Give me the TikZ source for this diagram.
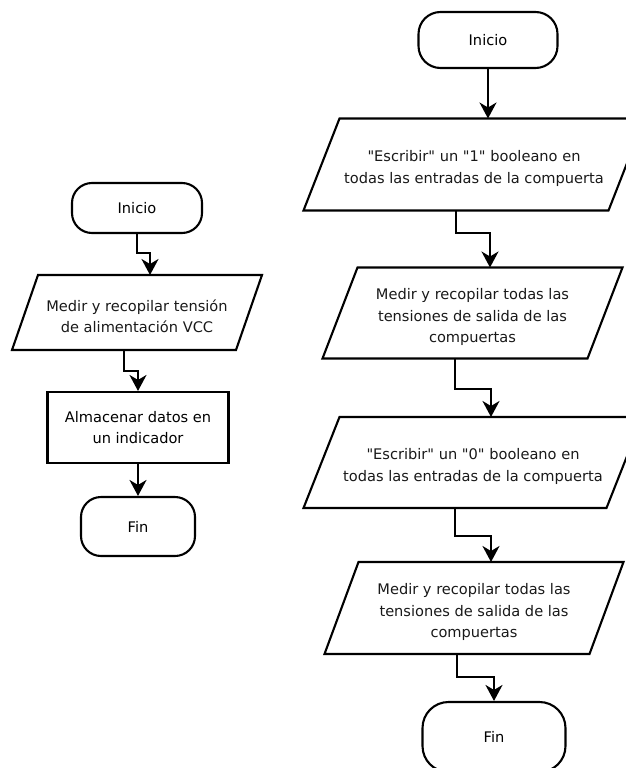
\documentclass[tikz,border=0pt]{standalone}
\usepackage{fontspec}
\setmainfont{DejaVu Sans}[Ligatures=TeXOff]
\usetikzlibrary{arrows.meta}

\tikzset{
  x=1pt, y=-1pt,
  flowline/.style={line width=2.1pt, black},
  flowarrow/.style={flowline, -{Stealth[length=16pt,width=17pt,inset=5pt]}},
  label text/.style={font=\fontsize{14.6}{21.5}\selectfont, text=black!90, align=center},
  terminal/.style={label text, draw, flowline, rounded corners=20pt, inner sep=0pt},
  process/.style={label text, draw, flowline, inner sep=0pt},
  io text/.style={label text, inner sep=0pt},
}

% Input/output box centred at (#2,#3): width #4, height #5, slant #6.
% The text node is (#1); #1t / #1b are the midpoints of the top and bottom edges.
\newcommand{\iobox}[7]{%
  \draw[flowline, line join=miter]
    ({#2-#4/2-#6/2},{#3+#5/2}) -- ({#2-#4/2+#6/2},{#3-#5/2}) --
    ({#2+#4/2+#6/2},{#3-#5/2}) -- ({#2+#4/2-#6/2},{#3+#5/2}) -- cycle;
  \node[io text] (#1) at (#2,{#3+4}) {#7};
  \coordinate (#1t) at ({#2+#6/2},{#3-#5/2});
  \coordinate (#1b) at ({#2-#6/2},{#3+#5/2});
}

\begin{document}
\begin{tikzpicture}
\useasboundingbox (0,0) rectangle (626,768);

% ---- left flow ----
\node[terminal, minimum width=130pt, minimum height=50pt] (li) at (137,208) {Inicio};
\iobox{lp}{137}{312.5}{224}{75}{26}{Medir y recopilar tensión\\de alimentación VCC}
\node[process, minimum width=181pt, minimum height=71pt] (lr) at (138,427.5) {Almacenar datos en\\un indicador};
\node[terminal, minimum width=114pt, minimum height=59pt] (lf) at (138,526.5) {Fin};

\coordinate (lm1) at (0,253);
\draw[flowarrow] (li.south) -- (li.south |- lm1) -| (lpt);
\coordinate (lm2) at (0,371);
\draw[flowarrow] (lpb) -- (lpb |- lm2) -| (lr.north);
\draw[flowarrow] (lr.south) -- (lr.south |- lf.north);

% ---- right flow ----
\node[terminal, rounded corners=22pt, minimum width=139pt, minimum height=56pt] (ri) at (488,40) {Inicio};
\iobox{rp1}{474}{164.5}{305}{92}{36}{"Escribir" un "1" booleano en\\todas las entradas de la compuerta}
\iobox{rp2}{472.5}{313}{265}{91}{35}{Medir y recopilar todas las\\tensiones de salida de las\\compuertas}
\iobox{rp3}{473}{462.5}{303}{91}{36}{"Escribir" un "0" booleano en\\todas las entradas de la compuerta}
\iobox{rp4}{474}{608}{265}{92}{34}{Medir y recopilar todas las\\tensiones de salida de las\\compuertas}
\node[terminal, rounded corners=26pt, minimum width=143pt, minimum height=70pt] (rf) at (494,737) {Fin};

\draw[flowarrow] (ri.south) -- (ri.south |- rp1t);
\coordinate (rm1) at (0,233);
\draw[flowarrow] (rp1b) -- (rp1b |- rm1) -| (rp2t);
\coordinate (rm2) at (0,389);
\draw[flowarrow] (rp2b) -- (rp2b |- rm2) -| (rp3t);
\coordinate (rm3) at (0,536);
\draw[flowarrow] (rp3b) -- (rp3b |- rm3) -| (rp4t);
\coordinate (rm4) at (0,677);
\draw[flowarrow] (rp4b) -- (rp4b |- rm4) -| (rf.north);
\end{tikzpicture}
\end{document}
